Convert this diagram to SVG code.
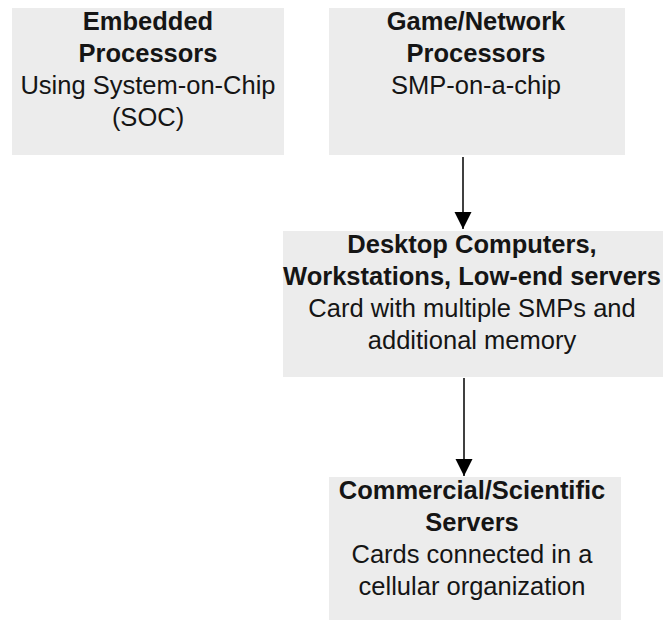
<svg xmlns="http://www.w3.org/2000/svg" width="665" height="620" viewBox="0 0 665 620">
<style>
.box{fill:#ececec;}
.t{font-family:"Liberation Sans",Arial,sans-serif;font-size:25.5px;fill:#151515;text-anchor:middle;}
.b{font-weight:bold;}
.conn{stroke:#000;stroke-width:1.5;fill:none;marker-end:url(#ah);}
</style>
<defs>
<marker id="ah" markerUnits="userSpaceOnUse" markerWidth="18" markerHeight="18" refX="17" refY="8.5" orient="auto">
<path d="M0,0 L17,8.5 L0,17 Z" fill="#000"/>
</marker>
</defs>
<rect width="665" height="620" fill="#fff"/>
<g id="embedded">
<rect class="box" x="12" y="8" width="272" height="147"/>
<text class="t b" x="148" y="30">Embedded</text>
<text class="t b" x="148" y="62">Processors</text>
<text class="t" x="148" y="94">Using System-on-Chip</text>
<text class="t" x="148" y="126">(SOC)</text>
</g>
<g id="game">
<rect class="box" x="329" y="8" width="296" height="147"/>
<text class="t b" x="476" y="30">Game/Network</text>
<text class="t b" x="476" y="62">Processors</text>
<text class="t" x="476" y="94">SMP-on-a-chip</text>
</g>
<g id="desktop">
<rect class="box" x="283" y="231" width="380" height="146"/>
<text class="t b" x="472" y="253">Desktop Computers,</text>
<text class="t b" x="472" y="285">Workstations, Low-end servers</text>
<text class="t" x="472" y="317">Card with multiple SMPs and</text>
<text class="t" x="472" y="349">additional memory</text>
</g>
<g id="commercial">
<rect class="box" x="329" y="477" width="292" height="143"/>
<text class="t b" x="472" y="499">Commercial/Scientific</text>
<text class="t b" x="472" y="531">Servers</text>
<text class="t" x="472" y="563">Cards connected in a</text>
<text class="t" x="472" y="595">cellular organization</text>
</g>
<g id="connectors">
<line class="conn" x1="463" y1="157" x2="463" y2="229"/>
<line class="conn" x1="464" y1="378" x2="464" y2="476"/>
</g>
</svg>
